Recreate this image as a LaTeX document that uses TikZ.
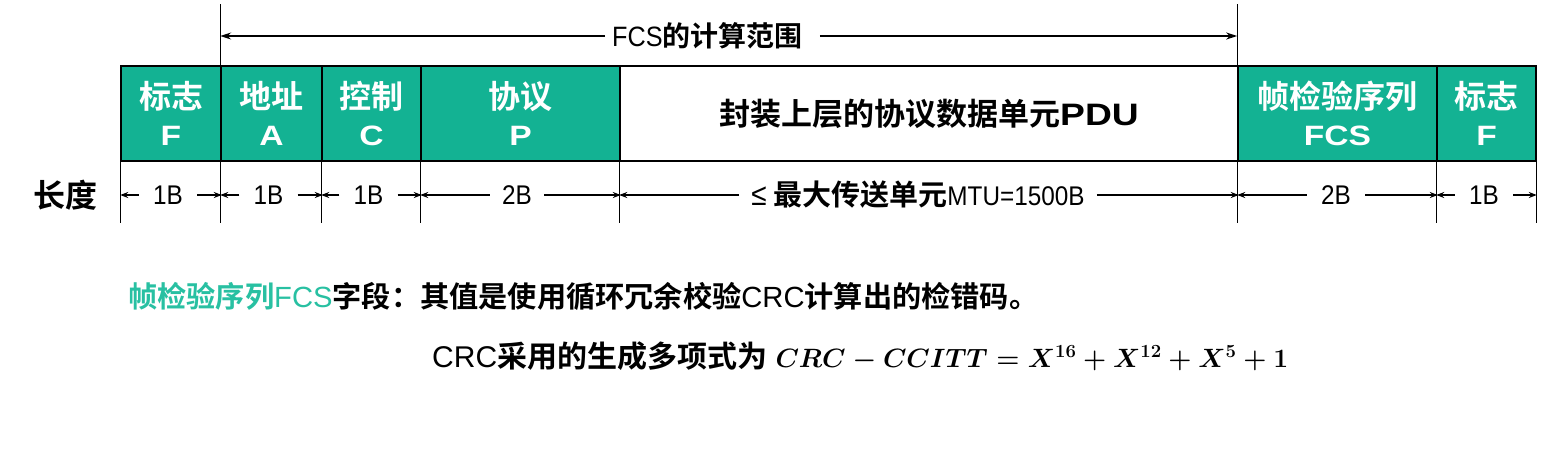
\RequirePackage{fix-cm}
\documentclass[tikz,border=0pt]{standalone}
\usepackage{fontspec}
\setmainfont{Liberation Sans}
\newfontfamily\cjkb{Noto Sans CJK SC Bold}
\newfontfamily\narrow{Liberation Sans}[FakeStretch=0.9]
\newfontfamily\wideb{Liberation Sans Bold}[FakeStretch=1.2]
\usetikzlibrary{arrows.meta}
\definecolor{fieldgreen}{RGB}{19,178,147}
\definecolor{textgreen}{RGB}{40,192,162}
\tikzset{
  field/.style={draw=black, line width=1.6pt, fill=fieldgreen, text=white,
    minimum height=95pt, inner sep=0pt, align=center,
    font=\fontsize{32}{37}\selectfont},
  lenlab/.style={inner xsep=14pt, inner ysep=0pt, font=\fontsize{27}{30}\selectfont\narrow},
  guide/.style={line width=1.3pt, black},
  larrow/.style={line width=1.3pt, -{Stealth[length=8pt,width=6pt]}},
  tarrow/.style={line width=1.3pt, -{Stealth[length=11pt,width=7pt]}},
}
\newcommand{\fld}[2]{{\cjkb #1}\\{\fontsize{28}{37}\selectfont\wideb #2}}
\newcommand{\crcformula}{{\fontsize{26.5}{30}\selectfont\boldmath$CRC-CCITT=X^{16}+X^{12}+X^{5}+1$}}
\begin{document}
\begin{tikzpicture}[x=1pt,y=-1pt]
\useasboundingbox[fill=white] (0,0) rectangle (1564,451);
% frame fields
\node[field, minimum width=100pt] (f1) at (171,113.5) {\fld{标志}{F}};
\node[field, minimum width=101pt] (a) at (271.5,113.5) {\fld{地址}{A}};
\node[field, minimum width=99pt] (c) at (371.5,113.5) {\fld{控制}{C}};
\node[field, minimum width=199pt] (p) at (520.5,113.5) {\fld{协议}{P}};
\node[field, minimum width=618pt, fill=white, text=black, font=\fontsize{31}{37}\selectfont] (pdu) at (929,113.5)
  {{\cjkb 封装上层的协议数据单元}{\wideb PDU}};
\node[field, minimum width=199pt] (fcs) at (1337.5,113.5) {\fld{帧检验序列}{FCS}};
\node[field, minimum width=99pt] (f2) at (1486.5,113.5) {\fld{标志}{F}};
% guides below
\foreach \n in {f1,a,c,p,pdu,fcs,f2} \draw[guide] (\n.south west) -- ++(0,61);
\draw[guide] (f2.south east) -- ++(0,61);
% guides above
\draw[guide] (a.north west) -- ++(0,-61);
\draw[guide] (fcs.north west) -- ++(0,-61);
% FCS range
\node[anchor=west, inner sep=0pt, font=\fontsize{28}{30}\selectfont] (rng) at (612,36) {{\narrow FCS}{\cjkb 的计算范围}};
\draw[tarrow] ([xshift=-7pt]rng.west) -- (rng.west -| a.north west);
\draw[tarrow] ([xshift=17pt]rng.east) -- (rng.east -| fcs.north west);
% length row
\node[anchor=west, inner sep=0pt, font=\fontsize{32}{34}\selectfont\cjkb] (len) at (33,195) {长度};
\node[lenlab] (l1) at (168,195) {1B};
\node[lenlab] (l2) at (268.5,195) {1B};
\node[lenlab] (l3) at (368.5,195) {1B};
\node[lenlab, inner xsep=12pt] (l4) at (517,195) {2B};
\node[lenlab, inner xsep=12pt] (l5) at (918,195) {{\fontsize{31}{30}\selectfont ≤} {\fontsize{29}{30}\selectfont\cjkb 最大传送单元}MTU=1500B};
\node[lenlab, inner xsep=14pt] (l6) at (1336,195) {2B};
\node[lenlab] (l7) at (1484,195) {1B};
\foreach \l/\n in {l1/f1,l2/a,l3/c,l4/p,l5/pdu,l6/fcs,l7/f2} {
  \draw[larrow] (\l.west) -- (\l.west -| \n.south west);
  \draw[larrow] (\l.east) -- (\l.east -| \n.south east);
}
% explanation
\node[anchor=west, inner sep=0pt, font=\fontsize{29.2}{34}\selectfont] (t1) at (128,296)
  {{\color{textgreen}\cjkb 帧检验序列}{\color{textgreen}FCS}{\cjkb 字段：其值是使用循环冗余校验}CRC{\cjkb 计算出的检错码。}};
\node[anchor=west, inner sep=0pt, font=\fontsize{30}{34}\selectfont] (t2) at (432,356)
  {CRC{\cjkb 采用的生成多项式为} \crcformula};
\end{tikzpicture}
\end{document}
